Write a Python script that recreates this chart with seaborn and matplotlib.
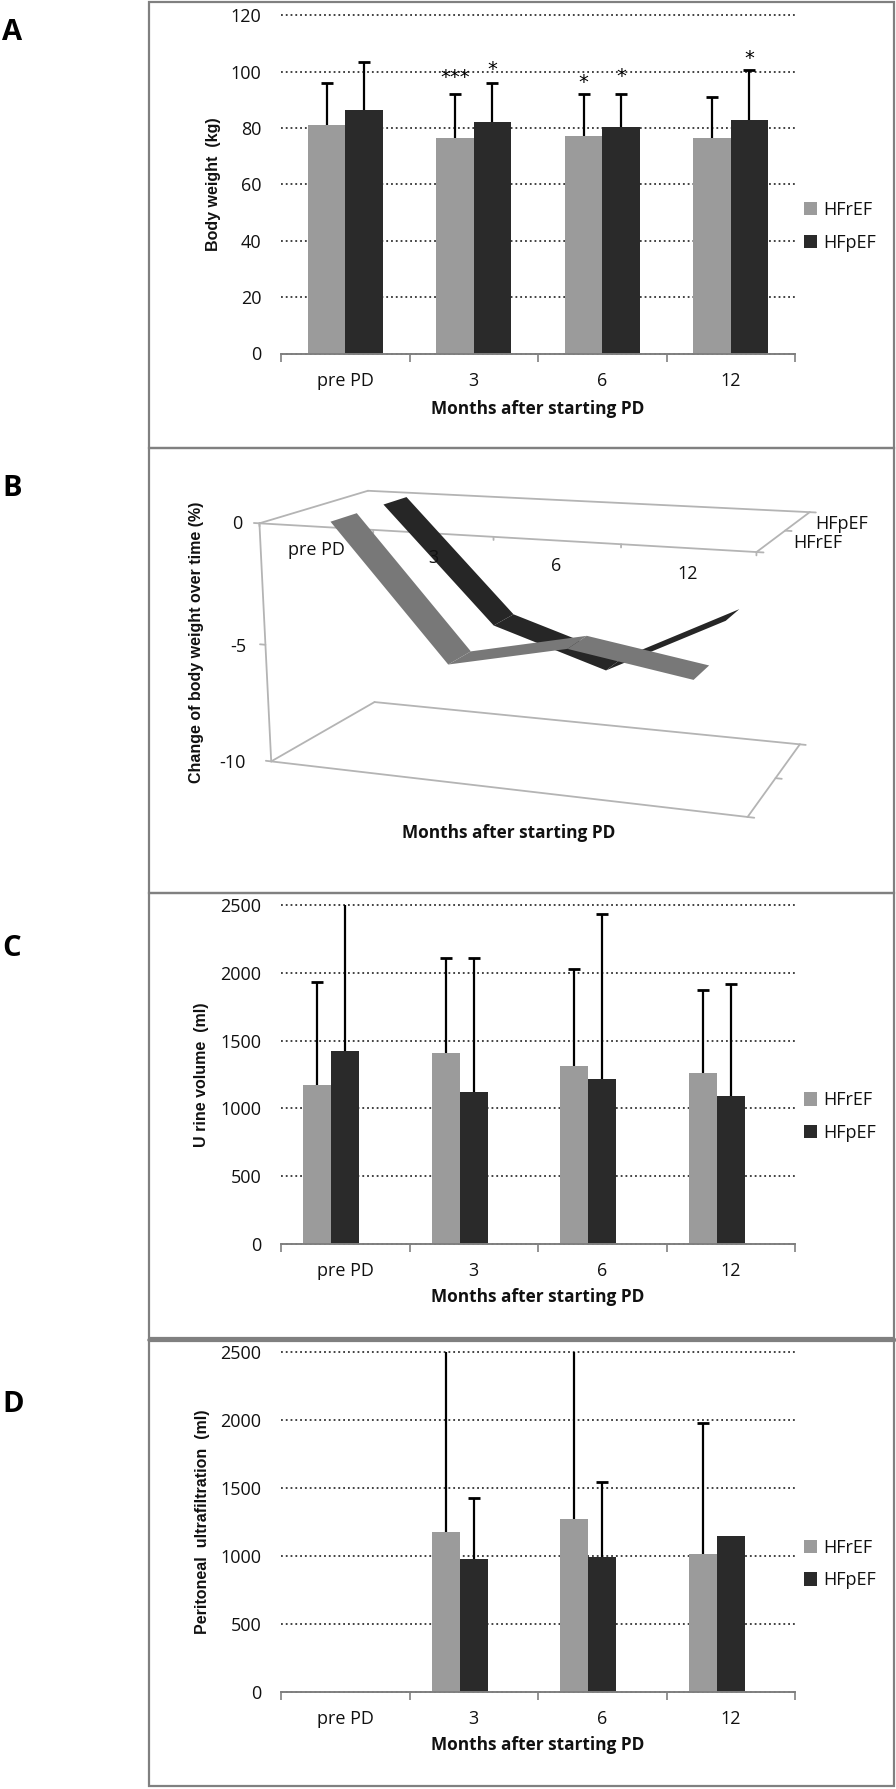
import numpy as np
import pandas as pd
import seaborn as sns
import matplotlib.pyplot as plt
from matplotlib.patches import Polygon, Rectangle

W, H = 896, 1789
months = ['pre PD', '3', '6', '12']
groups = ['HFrEF', 'HFpEF']

# Panel A
weight_r = [81, 76.5, 77, 76.5]
weight_p = [86.5, 82, 80.5, 83]
weight_r_top = [96, 92, 92, 91]
weight_p_top = [103.5, 96, 92, 100.5]
weight_stars = [(1, 'HFrEF', '***', 98), (1, 'HFpEF', '*', 100.8), (2, 'HFrEF', '*', 96.2),
                (2, 'HFpEF', '*', 98.2), (3, 'HFpEF', '*', 104.8)]

# Panel B
change_r = [0, -5.5, -4.45, -5.25]
change_p = [0, -4.95, -6.5, -4.0]

# Panel C
urine_r = [1175, 1410, 1315, 1260]
urine_p = [1425, 1120, 1215, 1090]
urine_r_top = [1930, 2110, 2030, 1875]
urine_p_top = [2600, 2110, 2430, 1915]

# Panel D
uf_r = [np.nan, 1180, 1270, 1015]
uf_p = [np.nan, 975, 990, 1145]
uf_r_top = [np.nan, 2600, 2600, 1975]
uf_p_top = [np.nan, 1425, 1545, np.nan]

sns.set_theme(style='white')
plt.rcParams['font.family'] = ['Open Sans', 'DejaVu Sans']
colors = {'HFrEF': '#9b9b9b', 'HFpEF': '#2a2a2a', 'blank': '#ffffff'}
GREY = '#808080'

fig = plt.figure(figsize=(W / 100, H / 100), dpi=100)
page = fig.add_axes([0, 0, 1, 1])
page.set_xlim(0, W)
page.set_ylim(H, 0)
page.axis('off')


def px_axes(left, top, right, bottom):
    return fig.add_axes([left / W, 1 - bottom / H, (right - left) / W, (bottom - top) / H])


def bar_panel(box, r, p, r_top, p_top, ymax, step, ylabel, label_x, width, blank=False, xlab_px=53.5):
    ax = px_axes(*box)
    df = pd.DataFrame({'month': months * 2,
                       'group': ['HFrEF'] * 4 + ['HFpEF'] * 4,
                       'value': list(r) + list(p)})
    order = groups + ['blank'] if blank else groups
    sns.barplot(data=df, x='month', y='value', hue='group', order=months, hue_order=order,
                palette=colors, width=width, gap=0, errorbar=None, saturation=1, linewidth=0, ax=ax)
    ax.patch.set_visible(False)
    ax.set_xlim(-0.5, 3.5)
    ax.set_ylim(0, ymax)
    ax.set_yticks(np.arange(0, ymax + 1, step))
    ax.tick_params(axis='y', length=0, pad=14, labelsize=13, colors='#111111')
    ax.set_xticks([-0.5, 0.5, 1.5, 2.5, 3.5], labels=[''] * 5)
    ax.set_xticks(range(4), labels=months, minor=True)
    ax.tick_params(axis='x', which='major', length=6, width=1.2, color=GREY, bottom=True)
    ax.tick_params(axis='x', which='minor', length=0, pad=13, labelsize=13, colors='#111111')
    ax.yaxis.grid(True, ls=':', color='#333333', lw=1.3, clip_on=False)
    ax.set_axisbelow(True)
    sns.despine(ax=ax, left=True)
    ax.spines['bottom'].set_color(GREY)
    ax.spines['bottom'].set_linewidth(1.4)

    # error bars only go up, from each bar top
    for cont, tops in zip(ax.containers, [r_top, p_top]):
        for bar in cont:
            cx = bar.get_x() + bar.get_width() / 2
            top = tops[int(round(cx))]
            if np.isnan(top):
                continue
            eb = ax.errorbar(cx, bar.get_height(), yerr=[[0], [top - bar.get_height()]], color='black',
                             lw=1.6, capsize=4, capthick=2)
            eb[1][0].set_visible(False)

    ax.set_xlabel('Months after starting PD', fontsize=12.4, fontweight='bold', color='#111111', va='center')
    ax.xaxis.set_label_coords(0.5, -xlab_px / (box[3] - box[1]))
    ax.set_ylabel(ylabel, fontsize=11.5, fontweight='bold', color='#111111', family=['Liberation Sans'])
    ax.yaxis.set_label_coords(label_x, 0.5)

    handles, labels = ax.get_legend_handles_labels()
    ax.legend(handles[:2], labels[:2], loc='center left', bbox_to_anchor=(1.0, 0.376), frameon=False,
              fontsize=13, handlelength=0.7, handleheight=0.75, handletextpad=0.35, labelspacing=0.8,
              borderpad=0, labelcolor='#111111')
    return ax


# Panel A
ax_a = bar_panel((281, 15.3, 795, 353.5), weight_r, weight_p, weight_r_top, weight_p_top,
                 120, 20, 'Body weight  (kg)', -0.117, 0.58, xlab_px=55)
for i, grp, mark, y in weight_stars:
    off = -0.145 if grp == 'HFrEF' else 0.145
    ax_a.text(i + off, y, mark, ha='center', va='center', fontsize=14, color='black', family=['DejaVu Sans'])

# Panel C
bar_panel((281, 905, 795, 1244), urine_r, urine_p, urine_r_top, urine_p_top,
          2500, 500, 'U rine volume  (ml)', -0.14, 0.65, blank=True)

# Panel D
bar_panel((281, 1352, 795, 1692), uf_r, uf_p, uf_r_top, uf_p_top,
          2500, 500, 'Peritoneal  ultrafiltration  (ml)', -0.138, 0.65, blank=True)

# Panel B: 3D ribbons, projected with a camera matrix fitted to the box corners
world = np.array([[0, 0, 0], [4, 0, 0], [0, 0, 1], [4, 0, 1],
                  [0, -10, 0], [4, -10, 0], [0, -10, 1], [4, -10, 1],
                  [1, 0, 0], [2, 0, 0], [3, 0, 0]], float)
image = np.array([[260.5, 522.3], [758, 551.7], [367.6, 490.7], [809, 512.3],
                  [271, 761.7], [746.6, 816.7], [374.8, 702.3], [800.6, 744],
                  [372.4, 530], [493, 537.3], [621, 545]])
rows = []
for (x, y, z), (u, v) in zip(world, image):
    rows.append([x, y, z, 1, 0, 0, 0, 0, -u * x, -u * y, -u * z, -u])
    rows.append([0, 0, 0, 0, x, y, z, 1, -v * x, -v * y, -v * z, -v])
cam = np.linalg.svd(np.array(rows))[2][-1].reshape(3, 4)


def proj(x, y, z):
    h = cam @ np.array([x, y, z, 1.0])
    return h[0] / h[2], h[1] / h[2]


def box_line(a, b):
    pts = [proj(*a), proj(*b)]
    page.plot([pts[0][0], pts[1][0]], [pts[0][1], pts[1][1]], color='#b4b4b4', lw=1.3, zorder=1)


for lvl in [0, -10]:
    box_line((0, lvl, 0), (4, lvl, 0))
    box_line((0, lvl, 1), (4, lvl, 1))
    box_line((0, lvl, 0), (0, lvl, 1))
    box_line((4, lvl, 0), (4, lvl, 1))
box_line((0, 0, 0), (0, -10, 0))
for k in range(5):
    box_line((k, 0, 0), (k, -0.12, 0))
for lvl in [0, -5, -10]:
    box_line((0, lvl, 0), (-0.05, lvl, 0))
for z in [0, 0.5, 1]:
    box_line((4, 0, z), (4.05, 0, z))
box_line((4, -10, 0.5), (4.05, -10, 0.5))
box_line((4, -10, 0), (4.05, -10, 0))
box_line((4, -10, 1), (4.05, -10, 1))

for vals, z, col in [(change_p, 0.75, '#262626'), (change_r, 0.25, '#787878')]:
    for i in range(3):
        quad = [proj(i + 0.5, vals[i], z - 0.12), proj(i + 1.5, vals[i + 1], z - 0.12),
                proj(i + 1.5, vals[i + 1], z + 0.12), proj(i + 0.5, vals[i], z + 0.12)]
        page.add_patch(Polygon(quad, closed=True, color=col, lw=0, zorder=3))

TXT = '#111111'
for i, lab in enumerate(months):
    u, v = proj(i + 0.5, -0.95, 0)
    page.text(u, v, lab, fontsize=13, ha='center', va='center', color=TXT, zorder=4)
for lvl, (u, v) in zip(['0', '-5', '-10'], [(234, 524), (238, 647), (238, 763)]):
    page.text(u + 8, v, lvl, fontsize=13, ha='right', va='center', color=TXT)
page.text(842, 524, 'HFpEF', fontsize=13, ha='center', va='center', color=TXT)
page.text(818, 543, 'HFrEF', fontsize=13, ha='center', va='center', color=TXT)
page.text(197, 642, 'Change of body weight over time (%)', fontsize=11.5, fontweight='bold', rotation=90,
          ha='center', va='center', color=TXT, family=['Liberation Sans'])
page.text(509, 833, 'Months after starting PD', fontsize=12.4, fontweight='bold', ha='center', va='center', color=TXT)

# Panel frames and letters
for top, bottom in [(2, 448), (448, 893), (893, 1338), (1341, 1786)]:
    page.add_patch(Rectangle((149, top), 745, bottom - top, fill=False, ec=GREY, lw=1.6, zorder=5))
page.plot([149, 895], [1339.5, 1339.5], color=GREY, lw=2.6, zorder=5)
for lab, y in [('A', 33), ('B', 488), ('C', 948), ('D', 1405)]:
    page.text(2, y, lab, fontsize=21, fontweight='bold', va='center', ha='left', color='black')

fig.savefig('out.png', dpi=100)
